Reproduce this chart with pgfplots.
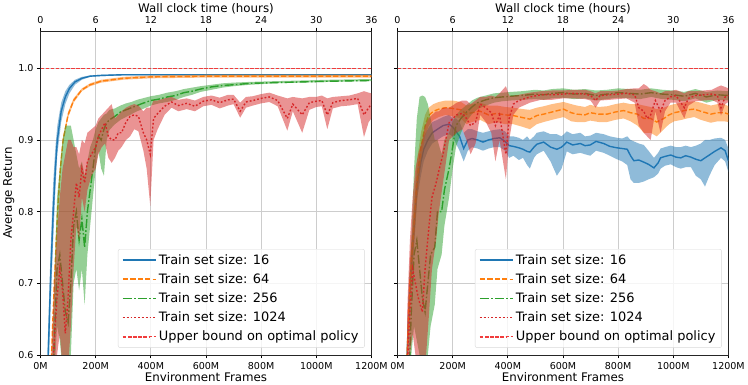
\documentclass[border=0pt]{standalone}
\usepackage{fontspec}
\setmainfont{DejaVu Sans}
\usepackage{pgfplots}
\usepackage{pgfplotstable}
\pgfplotsset{compat=1.18}

\definecolor{tblue}{HTML}{1F77B4}
\definecolor{torange}{HTML}{FF7F0E}
\definecolor{tgreen}{HTML}{2CA02C}
\definecolor{tred}{HTML}{D62728}
\definecolor{ubred}{RGB}{240,60,60}
\definecolor{gridc}{RGB}{205,205,205}

% left panel: x (M frames), mean, lower, upper
\pgfplotstableread{
x m lo hi
10 0.40 0.37 0.43
20 0.50 0.46 0.54
28 0.60 0.56 0.64
36 0.70 0.66 0.74
46 0.80 0.76 0.84
54 0.86 0.83 0.89
61 0.90 0.88 0.92
75 0.94 0.925 0.952
90 0.96 0.95 0.968
105 0.972 0.965 0.977
125 0.981 0.977 0.984
150 0.986 0.984 0.988
180 0.989 0.988 0.990
220 0.990 0.989 0.991
300 0.991 0.990 0.992
1200 0.991 0.990 0.992
}\LB
\pgfplotstableread{
x m lo hi
30 0.45 0.44 0.46
40 0.60 0.59 0.61
50 0.70 0.69 0.71
62 0.80 0.79 0.81
72 0.86 0.85 0.87
82 0.90 0.895 0.905
100 0.935 0.931 0.939
120 0.955 0.952 0.958
150 0.970 0.968 0.972
180 0.977 0.975 0.979
220 0.982 0.980 0.984
300 0.986 0.984 0.988
400 0.988 0.986 0.990
600 0.989 0.987 0.991
1200 0.989 0.987 0.991
}\LO
\pgfplotstableread{
x m lo hi
40 0.50 0.45 0.56
50 0.62 0.57 0.70
60 0.72 0.64 0.82
70 0.74 0.62 0.86
80 0.70 0.58 0.90
90 0.66 0.56 0.92
100 0.645 0.57 0.92
110 0.70 0.60 0.92
120 0.78 0.70 0.90
130 0.80 0.72 0.88
140 0.76 0.69 0.86
150 0.79 0.72 0.87
160 0.75 0.67 0.85
170 0.80 0.74 0.87
180 0.83 0.78 0.89
190 0.86 0.82 0.90
200 0.89 0.86 0.915
210 0.905 0.885 0.925
220 0.90 0.86 0.93
230 0.915 0.85 0.935
240 0.924 0.90 0.937
250 0.928 0.914 0.942
270 0.933 0.922 0.944
290 0.939 0.928 0.948
310 0.942 0.932 0.951
330 0.945 0.936 0.953
350 0.948 0.940 0.956
370 0.951 0.943 0.958
400 0.955 0.948 0.961
430 0.957 0.951 0.963
460 0.960 0.953 0.966
490 0.962 0.956 0.968
520 0.966 0.960 0.971
550 0.968 0.963 0.973
580 0.971 0.967 0.975
620 0.974 0.970 0.977
660 0.976 0.973 0.979
700 0.977 0.975 0.980
760 0.979 0.977 0.981
850 0.980 0.979 0.982
950 0.981 0.980 0.983
1050 0.982 0.981 0.984
1200 0.983 0.982 0.985
}\LG
\pgfplotstableread{
x m lo hi
40 0.55 0.50 0.60
50 0.62 0.56 0.70
60 0.68 0.60 0.77
70 0.72 0.63 0.82
80 0.69 0.58 0.86
90 0.63 0.55 0.88
100 0.68 0.58 0.90
110 0.76 0.64 0.90
120 0.80 0.72 0.89
130 0.84 0.78 0.89
140 0.82 0.76 0.88
150 0.86 0.82 0.90
160 0.84 0.80 0.895
170 0.87 0.83 0.91
185 0.88 0.85 0.915
200 0.89 0.86 0.92
210 0.905 0.88 0.93
222 0.915 0.89 0.935
234 0.924 0.895 0.94
246 0.905 0.875 0.945
258 0.90 0.868 0.95
270 0.90 0.875 0.93
282 0.91 0.885 0.935
294 0.91 0.89 0.94
310 0.925 0.90 0.945
325 0.933 0.905 0.948
340 0.935 0.915 0.95
355 0.933 0.912 0.948
373 0.91 0.885 0.94
385 0.90 0.86 0.945
398 0.88 0.808 0.945
410 0.93 0.90 0.955
425 0.937 0.915 0.955
450 0.947 0.935 0.958
475 0.953 0.945 0.96
500 0.948 0.94 0.956
530 0.951 0.943 0.958
560 0.947 0.94 0.955
590 0.954 0.947 0.960
620 0.956 0.949 0.962
650 0.952 0.944 0.959
680 0.956 0.948 0.963
700 0.957 0.95 0.963
724 0.94 0.931 0.952
745 0.953 0.945 0.96
770 0.955 0.948 0.961
800 0.958 0.951 0.964
830 0.96 0.953 0.966
860 0.955 0.947 0.962
895 0.93 0.913 0.958
915 0.95 0.94 0.96
949 0.935 0.91 0.958
975 0.952 0.942 0.96
1000 0.954 0.946 0.96
1020 0.955 0.947 0.962
1040 0.935 0.915 0.958
1060 0.952 0.944 0.96
1090 0.955 0.947 0.961
1120 0.956 0.948 0.962
1150 0.958 0.95 0.965
1173 0.935 0.904 0.968
1190 0.945 0.925 0.966
1200 0.95 0.93 0.965
}\LR

% right panel
\pgfplotstableread{
x m lo hi
20 0.45 0.42 0.48
35 0.60 0.57 0.63
45 0.70 0.67 0.73
56 0.756 0.73 0.78
72 0.84 0.82 0.86
85 0.87 0.85 0.89
95 0.887 0.87 0.905
110 0.90 0.885 0.915
126 0.91 0.895 0.925
145 0.915 0.90 0.928
165 0.92 0.905 0.932
187 0.922 0.908 0.935
200 0.918 0.905 0.93
212 0.912 0.895 0.93
225 0.905 0.885 0.925
240 0.888 0.87 0.91
255 0.90 0.885 0.915
270 0.902 0.89 0.915
290 0.90 0.888 0.912
310 0.897 0.885 0.91
330 0.90 0.888 0.912
350 0.902 0.89 0.914
371 0.903 0.89 0.915
390 0.898 0.885 0.912
405 0.892 0.875 0.905
420 0.891 0.878 0.905
440 0.889 0.872 0.903
455 0.887 0.875 0.90
470 0.884 0.865 0.905
480 0.883 0.86 0.90
495 0.89 0.875 0.905
505 0.894 0.88 0.91
530 0.897 0.885 0.912
555 0.89 0.87 0.908
578 0.887 0.85 0.908
595 0.89 0.86 0.905
614 0.897 0.884 0.912
635 0.893 0.88 0.908
663 0.895 0.882 0.91
680 0.892 0.88 0.905
699 0.893 0.878 0.906
720 0.898 0.885 0.91
748 0.895 0.882 0.908
770 0.891 0.878 0.905
796 0.889 0.873 0.903
815 0.888 0.87 0.902
833 0.887 0.865 0.905
845 0.878 0.845 0.90
857 0.871 0.84 0.898
875 0.872 0.84 0.895
893 0.869 0.842 0.893
910 0.866 0.845 0.885
930 0.861 0.848 0.875
945 0.868 0.853 0.882
954 0.875 0.86 0.888
970 0.877 0.864 0.89
991 0.879 0.866 0.892
1010 0.876 0.862 0.89
1027 0.875 0.86 0.89
1045 0.878 0.862 0.892
1064 0.876 0.862 0.89
1082 0.873 0.85 0.892
1100 0.871 0.845 0.895
1115 0.875 0.835 0.90
1131 0.879 0.85 0.90
1150 0.884 0.865 0.902
1173 0.889 0.875 0.903
1188 0.885 0.87 0.90
1200 0.871 0.855 0.888
}\RB
\pgfplotstableread{
x m lo hi
20 0.45 0.42 0.48
35 0.60 0.57 0.63
45 0.70 0.67 0.73
56 0.76 0.73 0.79
70 0.84 0.81 0.87
85 0.89 0.87 0.91
100 0.92 0.905 0.935
113 0.934 0.92 0.945
130 0.94 0.928 0.95
150 0.943 0.932 0.953
175 0.945 0.935 0.955
200 0.944 0.933 0.955
230 0.942 0.93 0.953
250 0.936 0.922 0.948
270 0.938 0.925 0.95
300 0.94 0.928 0.952
330 0.935 0.922 0.948
360 0.937 0.925 0.948
390 0.935 0.922 0.946
420 0.934 0.922 0.945
456 0.931 0.918 0.943
480 0.929 0.915 0.942
505 0.934 0.922 0.945
530 0.936 0.925 0.947
560 0.939 0.928 0.95
602 0.943 0.932 0.953
630 0.938 0.926 0.95
650 0.936 0.925 0.948
680 0.935 0.925 0.946
699 0.938 0.927 0.949
730 0.936 0.925 0.946
760 0.936 0.925 0.947
790 0.939 0.928 0.95
820 0.941 0.93 0.952
845 0.938 0.926 0.95
870 0.936 0.92 0.95
893 0.93 0.91 0.948
918 0.93 0.91 0.946
940 0.925 0.905 0.943
966 0.93 0.915 0.945
985 0.935 0.922 0.948
1003 0.938 0.926 0.95
1030 0.94 0.928 0.952
1050 0.942 0.93 0.953
1076 0.943 0.932 0.954
1100 0.94 0.928 0.952
1136 0.936 0.924 0.948
1160 0.938 0.926 0.95
1185 0.938 0.926 0.95
1200 0.936 0.925 0.947
}\RO
\pgfplotstableread{
x m lo hi
40 0.55 0.50 0.62
50 0.66 0.60 0.76
60 0.74 0.64 0.86
70 0.76 0.62 0.93
80 0.72 0.60 0.96
90 0.68 0.58 0.962
100 0.66 0.58 0.96
110 0.70 0.60 0.95
120 0.74 0.64 0.93
135 0.75 0.67 0.90
145 0.80 0.72 0.90
160 0.80 0.74 0.88
170 0.83 0.78 0.90
187 0.86 0.82 0.91
200 0.89 0.86 0.925
212 0.92 0.89 0.935
230 0.93 0.91 0.942
248 0.938 0.925 0.948
270 0.946 0.936 0.955
290 0.952 0.943 0.959
320 0.956 0.948 0.962
350 0.959 0.952 0.965
380 0.96 0.954 0.966
411 0.961 0.955 0.967
450 0.962 0.956 0.968
500 0.964 0.957 0.97
530 0.963 0.956 0.969
560 0.965 0.958 0.971
600 0.966 0.959 0.972
640 0.964 0.957 0.97
680 0.965 0.958 0.971
720 0.962 0.955 0.969
760 0.964 0.957 0.97
800 0.966 0.959 0.972
840 0.965 0.958 0.971
880 0.964 0.957 0.97
920 0.966 0.96 0.972
960 0.964 0.957 0.97
1000 0.963 0.956 0.969
1040 0.961 0.954 0.967
1080 0.965 0.958 0.971
1120 0.96 0.952 0.967
1160 0.963 0.956 0.969
1200 0.962 0.955 0.968
}\RG
\pgfplotstableread{
x m lo hi
35 0.58 0.50 0.66
45 0.66 0.60 0.76
55 0.72 0.63 0.82
65 0.70 0.60 0.86
75 0.68 0.58 0.88
90 0.66 0.57 0.90
100 0.72 0.58 0.92
113 0.775 0.65 0.93
125 0.82 0.72 0.935
140 0.84 0.76 0.94
150 0.857 0.80 0.94
165 0.88 0.84 0.945
187 0.924 0.90 0.945
200 0.93 0.905 0.948
215 0.935 0.91 0.952
235 0.937 0.915 0.955
250 0.93 0.90 0.955
265 0.92 0.88 0.95
283 0.925 0.895 0.955
300 0.95 0.935 0.96
320 0.945 0.925 0.96
340 0.938 0.91 0.962
355 0.92 0.87 0.96
370 0.935 0.90 0.965
393 0.88 0.845 0.975
405 0.93 0.90 0.962
420 0.95 0.935 0.962
440 0.955 0.945 0.963
480 0.96 0.952 0.966
520 0.963 0.956 0.968
560 0.963 0.956 0.969
600 0.964 0.958 0.969
640 0.965 0.958 0.97
680 0.964 0.957 0.97
700 0.962 0.955 0.968
718 0.955 0.945 0.965
735 0.962 0.955 0.968
770 0.963 0.956 0.968
800 0.964 0.957 0.969
830 0.965 0.958 0.971
860 0.963 0.952 0.972
875 0.945 0.92 0.972
893 0.94 0.91 0.978
905 0.93 0.905 0.975
918 0.935 0.90 0.97
935 0.955 0.94 0.968
954 0.94 0.91 0.965
970 0.955 0.94 0.968
990 0.96 0.952 0.968
1010 0.962 0.952 0.97
1040 0.945 0.93 0.965
1055 0.958 0.948 0.968
1080 0.962 0.954 0.968
1110 0.963 0.955 0.969
1140 0.964 0.956 0.97
1160 0.962 0.952 0.974
1173 0.945 0.934 0.976
1188 0.96 0.95 0.974
1200 0.962 0.953 0.972
}\RR

% band (upper edge forward, lower edge back) + mean line for one run
\newcommand{\run}[3]{%
  \pgfplotstablesort[sort key=x, sort cmp=float <]{\bandtbl}{#1}%
  \pgfplotstablesort[sort key=x, sort cmp=float >]{\revtbl}{#1}%
  \pgfplotstablevertcat{\bandtbl}{\revtbl}%
  \pgfplotstablegetrowsof{#1}\let\nrows\pgfplotsretval
  \addplot[fill=#2, fill opacity=0.5, draw=none, forget plot]
    table[x=x, y expr={\coordindex<\nrows ? \thisrow{hi} : \thisrow{lo}}]{\bandtbl};
  \addplot[#2, #3, line width=1.4pt] table[x=x,y=m]{#1};
}

\pgfplotsset{
  panel/.style={
    width=330pt, height=323pt, scale only axis,
    xmin=0, xmax=1200, ymin=0.6, ymax=1.052,
    xtick={0,200,...,1200},
    xticklabels={0M,200M,400M,600M,800M,1000M,1200M},
    ytick={0.6,0.7,0.8,0.9,1.0},
    yticklabel style={/pgf/number format/fixed, /pgf/number format/fixed zerofill, /pgf/number format/precision=1},
    /pgf/number format/assume math mode=true,
    ticklabel style={font=\fontsize{9.5}{11}\selectfont},
    label style={font=\fontsize{11.8}{14}\selectfont},
    xtick pos=lower, ytick pos=left,
    tick align=outside, major tick length=3.5pt,
    tick style={black, line width=0.8pt},
    axis line style={black!85, line width=0.8pt},
    grid=major, major grid style={gridc, line width=0.8pt},
    xlabel={Environment Frames},
    xlabel style={yshift=4pt},
    legend style={at={(0.98,0.022)}, anchor=south east,
      font=\fontsize{12.9}{15}\selectfont, draw=black!15, rounded corners=2pt,
      fill=white, fill opacity=0.8, text opacity=1, row sep=3.4pt,
      nodes={inner sep=2.2pt}, inner xsep=4pt, inner ysep=3pt},
    legend cell align=left,
    legend image code/.code={\draw[##1, line width=1.6pt] (0pt,0pt) -- (27pt,0pt); \path (0pt,0pt) -- (33pt,0pt);},
  },
  topax/.style={
    width=330pt, height=323pt, scale only axis,
    xmin=0, xmax=36, ymin=0, ymax=1,
    axis x line*=top, axis y line=none,
    xtick={0,6,...,36},
    /pgf/number format/assume math mode=true,
    ticklabel style={font=\fontsize{9.5}{11}\selectfont},
    label style={font=\fontsize{11.8}{14}\selectfont},
    tick align=outside, major tick length=3.5pt,
    tick style={black, line width=0.8pt},
    axis line style={black!85, line width=0.8pt},
    xlabel={Wall clock time (hours)},
    xlabel style={yshift=-4pt},
  },
  mean16/.style={solid},
  mean64/.style={dash pattern=on 5.2pt off 2.2pt},
  mean256/.style={dash pattern=on 9pt off 2.2pt on 1.6pt off 2.2pt},
  mean1024/.style={dash pattern=on 1.8pt off 2pt},
  ubound/.style={ubred, line width=1.2pt, dash pattern=on 3.5pt off 1.6pt},
}

\begin{document}
\begin{tikzpicture}
\begin{axis}[panel, at={(0,0)}, ylabel={Average Return}, ylabel style={yshift=-3pt}]
  \run{\LB}{tblue}{mean16}
  \run{\LO}{torange}{mean64}
  \run{\LG}{tgreen}{mean256}
  \run{\LR}{tred}{mean1024}
  \addplot[ubound] coordinates {(0,1.0) (1200,1.0)};
  \legend{Train set size: 16, Train set size: 64, Train set size: 256, Train set size: 1024, Upper bound on optimal policy}
\end{axis}
\begin{axis}[topax, at={(0,0)}]
\end{axis}
\begin{axis}[panel, at={(356pt,0)}, yticklabels={}]
  \run{\RB}{tblue}{mean16}
  \run{\RO}{torange}{mean64}
  \run{\RG}{tgreen}{mean256}
  \run{\RR}{tred}{mean1024}
  \addplot[ubound] coordinates {(0,1.0) (1200,1.0)};
  \legend{Train set size: 16, Train set size: 64, Train set size: 256, Train set size: 1024, Upper bound on optimal policy}
\end{axis}
\begin{axis}[topax, at={(356pt,0)}]
\end{axis}
\end{tikzpicture}
\end{document}
